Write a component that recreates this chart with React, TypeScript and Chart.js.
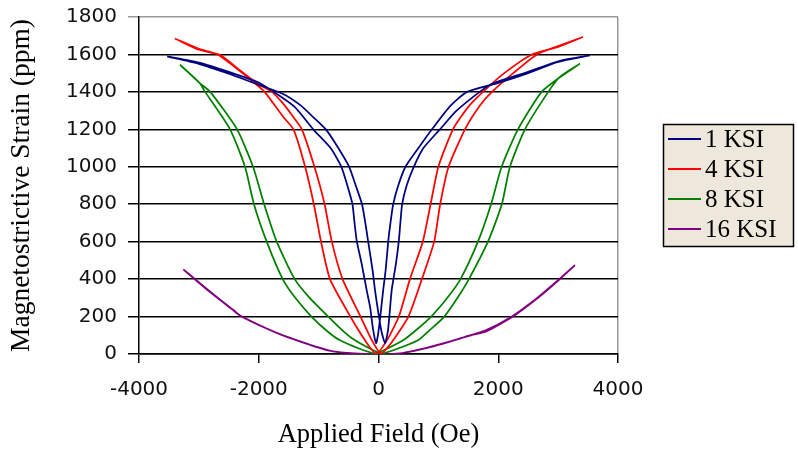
import React, { useEffect, useRef } from "react";
import { Chart, registerables } from "chart.js";

Chart.register(...registerables);

const xTicks: number[] = [-4000, -2000, 0, 2000, 4000];
const yTicks: number[] = [0, 200, 400, 600, 800, 1000, 1200, 1400, 1600, 1800];
const seriesLabels: string[] = ["1 KSI", "4 KSI", "8 KSI", "16 KSI"];
const seriesColors: string[] = ["#000080", "#FF0000", "#008000", "#800080"];

// [field (Oe), strain (ppm)] — rising branch read left to right, falling branch right to left
const ksi1Rising: [number, number][] = [
  [-3530, 1590], [-3000, 1550], [-2500, 1497], [-2000, 1438], [-1600, 1390], [-1300, 1328],
  [-1100, 1268], [-880, 1200], [-700, 1115], [-490, 1000], [-380, 900], [-275, 800],
  [-220, 700], [-175, 606], [-100, 450], [-58, 340], [0, 215], [50, 120], [110, 58],
  [160, 130], [220, 340], [290, 480], [340, 606], [365, 700], [395, 800], [470, 900],
  [590, 1000], [750, 1100], [1027, 1200], [1300, 1298], [1690, 1400], [1915, 1446],
  [2475, 1505], [3030, 1566], [3530, 1595],
];
const ksi1Falling: [number, number][] = [
  [3530, 1595], [3000, 1560], [2500, 1500], [2000, 1448], [1480, 1400], [1200, 1325],
  [893, 1200], [700, 1115], [450, 1000], [330, 900], [245, 800], [200, 700], [164, 606],
  [120, 450], [78, 340], [30, 200], [-10, 100], [-40, 58], [-90, 130], [-140, 250],
  [-197, 340], [-280, 480], [-364, 606], [-400, 700], [-435, 800], [-520, 900],
  [-620, 1000], [-800, 1100], [-1090, 1200], [-1400, 1320], [-1750, 1400], [-2000, 1450],
  [-2500, 1507], [-3000, 1557], [-3530, 1590],
];

const ksi4Rising: [number, number][] = [
  [-3400, 1685], [-3000, 1625], [-2650, 1598], [-2300, 1512], [-2000, 1440], [-1780, 1400],
  [-1600, 1340], [-1422, 1266], [-1280, 1200], [-1070, 1000], [-900, 800], [-780, 600],
  [-600, 400], [-300, 200], [-110, 73], [40, 2], [140, 30], [245, 73], [500, 200],
  [725, 400], [930, 600], [1030, 800], [1170, 1000], [1444, 1200], [1700, 1330],
  [1895, 1400], [2250, 1500], [2646, 1600], [3000, 1645], [3415, 1693],
];
const ksi4Falling: [number, number][] = [
  [3415, 1693], [3000, 1640], [2562, 1600], [2100, 1500], [1745, 1400], [1500, 1320],
  [1244, 1200], [1000, 1000], [870, 800], [740, 600], [525, 400], [340, 200], [140, 73],
  [-40, 2], [-225, 73], [-470, 200], [-810, 400], [-960, 600], [-1080, 800], [-1225, 1000],
  [-1420, 1200], [-1590, 1266], [-1900, 1400], [-1990, 1426], [-2330, 1515], [-2700, 1602],
  [-3000, 1630], [-3400, 1685],
];

const ksi8Rising: [number, number][] = [
  [-3314, 1545], [-2980, 1446], [-2810, 1400], [-2362, 1200], [-2095, 1000], [-1910, 800],
  [-1700, 600], [-1400, 400], [-1150, 300], [-840, 200], [-580, 120], [-392, 73], [-88, 20],
  [50, 3], [250, 20], [660, 73], [830, 120], [1100, 200], [1320, 300], [1510, 400],
  [1828, 600], [2060, 800], [2195, 1000], [2446, 1200], [2835, 1400], [3030, 1480],
  [3364, 1551],
];
const ksi8Falling: [number, number][] = [
  [3364, 1551], [3030, 1478], [2724, 1400], [2329, 1200], [2056, 1000], [1880, 800],
  [1661, 600], [1370, 400], [1150, 300], [880, 200], [600, 120], [410, 73], [90, 20],
  [-50, 3], [-250, 20], [-643, 73], [-850, 120], [-1120, 200], [-1390, 300], [-1600, 400],
  [-1867, 600], [-2080, 800], [-2229, 1000], [-2479, 1200], [-2895, 1400], [-2985, 1446],
  [-3314, 1545],
];

const ksi16Rising: [number, number][] = [
  [-3260, 452], [-3063, 400], [-2800, 330], [-2425, 235], [-2284, 200], [-1867, 136],
  [-1594, 100], [-1310, 68], [-1000, 35], [-760, 14], [-400, 3], [0, 0], [400, 5],
  [910, 42], [1361, 82], [1477, 95], [1806, 122], [2245, 200], [2696, 308], [3030, 400],
  [3280, 474],
];
const ksi16Falling: [number, number][] = [
  [3280, 474], [3000, 395], [2650, 300], [2200, 195], [1780, 125], [1330, 80], [880, 38],
  [380, 4], [0, 0], [-420, 4], [-790, 16], [-1030, 37], [-1340, 70], [-1620, 102],
  [-1900, 140], [-2310, 205], [-2450, 240], [-2830, 335], [-3090, 405], [-3260, 452],
];

const seriesPoints: [number, number][][] = [
  [...ksi1Rising, ...ksi1Falling],
  [...ksi4Rising, ...ksi4Falling],
  [...ksi8Rising, ...ksi8Falling],
  [...ksi16Rising, ...ksi16Falling],
];

const boxLegend = {
  id: "boxLegend",
  afterDraw(chart: any) {
    const ctx = chart.ctx as CanvasRenderingContext2D;
    ctx.save();
    ctx.fillStyle = "#EEE8DC";
    ctx.fillRect(663.5, 124.5, 130, 122);
    ctx.strokeStyle = "#000";
    ctx.lineWidth = 1.5;
    ctx.strokeRect(663.5, 124.5, 130, 122);
    chart.data.datasets.forEach((ds: any, i: number) => {
      const y = 139 + 30 * i;
      ctx.strokeStyle = ds.borderColor;
      ctx.lineWidth = 2;
      ctx.beginPath();
      ctx.moveTo(668, y);
      ctx.lineTo(701, y);
      ctx.stroke();
      ctx.fillStyle = "#000";
      ctx.font = "25px 'Liberation Serif'";
      ctx.textBaseline = "middle";
      ctx.textAlign = "left";
      ctx.fillText(ds.label, 705, y + 1);
    });
    ctx.restore();
  },
};

export default function App() {
  const ref = useRef<HTMLCanvasElement | null>(null);
  useEffect(() => {
    if (!ref.current) return;
    const chart = new Chart(ref.current, {
      type: "scatter",
      data: {
        datasets: seriesLabels.map((label, i) => ({
          label,
          data: seriesPoints[i].map(([x, y]) => ({ x, y })),
          showLine: true,
          borderColor: seriesColors[i],
          backgroundColor: seriesColors[i],
          borderWidth: 1.75,
          pointRadius: 0,
          tension: 0.2,
        })),
      },
      options: {
        responsive: false,
        animation: false,
        layout: { padding: { left: 0, top: 17, right: 180, bottom: 0 } },
        plugins: { legend: { display: false }, tooltip: { enabled: false } },
        scales: {
          x: {
            type: "linear",
            min: -4000,
            max: 4000,
            afterBuildTicks: (scale: any) => {
              scale.ticks = xTicks.map((v) => ({ value: v }));
            },
            afterFit: (scale: any) => {
              scale.height = 98;
            },
            ticks: {
              callback: (v: any) => String(v),
              font: { family: "'DejaVu Sans'", size: 20 },
              color: "#111",
              padding: 15,
              maxRotation: 0,
            },
            grid: {
              color: (c: any) => (c.tick && c.tick.value === 4000 ? "#999" : "rgba(0,0,0,0)"),
              tickColor: "#000",
              tickLength: 9,
              lineWidth: 1.5,
            },
            border: { display: true, color: "#000", width: 1.5 },
            title: {
              display: true,
              text: "Applied Field (Oe)",
              font: { family: "'Liberation Serif'", size: 26.5 },
              color: "#000",
              padding: { top: 0, bottom: 1 },
            },
          },
          y: {
            type: "linear",
            min: 0,
            max: 1800,
            afterBuildTicks: (scale: any) => {
              scale.ticks = yTicks.map((v) => ({ value: v }));
            },
            afterFit: (scale: any) => {
              scale.width = 139;
              scale.paddingTop = 0;
              scale.paddingBottom = 0;
            },
            ticks: {
              callback: (v: any) => String(v),
              font: { family: "'DejaVu Sans'", size: 20 },
              color: "#111",
              padding: 11,
            },
            grid: {
              color: (c: any) => (c.tick && c.tick.value === 1800 ? "#999" : "#000"),
              tickColor: (c: any) => (c.tick && c.tick.value === 1800 ? "#999" : "#000"),
              tickLength: 11,
              lineWidth: 1.5,
            },
            border: { display: true, color: "#000", width: 1.5 },
            title: {
              display: true,
              text: "Magnetostrictive Strain (ppm)",
              font: { family: "'Liberation Serif'", size: 27.5 },
              color: "#000",
              padding: { top: 5, bottom: 0 },
            },
          },
        },
      },
      plugins: [boxLegend],
    } as any);
    return () => chart.destroy();
  }, []);
  return (
    <div style={{ position: "fixed", left: 0, top: 0, width: 798, height: 452, background: "#fff" }}>
      <canvas ref={ref} width={798} height={452} style={{ display: "block" }} />
    </div>
  );
}
